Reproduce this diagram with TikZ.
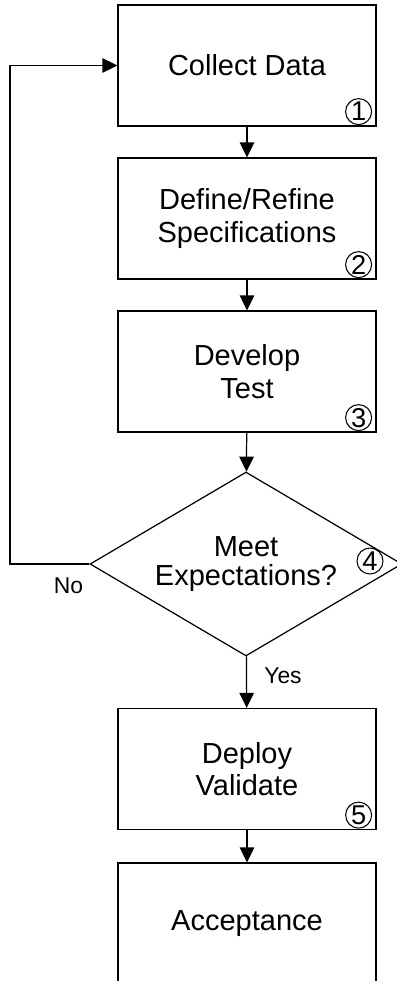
\documentclass[tikz,border=0pt]{standalone}
\usepackage{fontspec}
\setmainfont{Liberation Sans}
\usetikzlibrary{shapes.geometric,arrows.meta}

\begin{document}
\begin{tikzpicture}[
  box/.style={draw, line width=0.7pt, minimum width=5.16cm, minimum height=2.42cm,
    inner sep=0pt, align=center, font=\fontsize{16.5}{18.5}\selectfont},
  decision/.style={draw, diamond, aspect=1.7, line width=0.7pt, minimum width=6.24cm,
    minimum height=3.68cm, inner sep=0pt, align=center, font=\fontsize{16.5}{16}\selectfont},
  num/.style={draw, circle, line width=0.6pt, minimum size=0.52cm, inner sep=0pt,
    font=\fontsize{15.5}{15.5}\selectfont},
  lbl/.style={font=\fontsize{13}{14}\selectfont},
  arr/.style={line width=0.7pt, -{Triangle[width=0.29cm,length=0.3cm]}}
]
\useasboundingbox (0,0) rectangle (7.94,-19.62);
% The steps of the flow, top to bottom
\node[box] (collect) at (4.94,-1.31) {Collect Data};
\node[box] (specs) at (4.94,-4.37) {Define/Refine\\Specifications};
\node[box] (test) at (4.94,-7.43) {Develop\\Test};
\node[decision] (meet) at (4.92,-11.28) {Meet\\Expectations?};
\node[box] (deploy) at (4.94,-15.38) {Deploy\\Validate};
\node[box] (accept) at (4.94,-18.47) {Acceptance};
% Step numbers sit in the bottom right corners
\node[num] (n1) at ([xshift=-0.36cm,yshift=0.3cm]collect.south east) {1};
\node[num] (n2) at ([xshift=-0.36cm,yshift=0.3cm]specs.south east) {2};
\node[num] (n3) at ([xshift=-0.36cm,yshift=0.3cm]test.south east) {3};
\node[num] (n4) at ([xshift=2.48cm,yshift=0.06cm]meet.center) {4};
\node[num] (n5) at ([xshift=-0.36cm,yshift=0.3cm]deploy.south east) {5};
% Connectors
\draw[arr] (collect) -- (specs);
\draw[arr] (specs) -- (test);
\draw[arr] (test) -- (meet);
\draw[arr] (meet) -- (deploy);
\draw[arr] (deploy) -- (accept);
% The way back when the answer is no
\coordinate (back) at (0.2,-11.28);
\draw[arr] (meet.west) -- (back) |- (collect.west);
\node[lbl] (no) at ([xshift=-0.42cm,yshift=-0.44cm]meet.west) {No};
\node[lbl] (yes) at ([xshift=0.74cm,yshift=-0.38cm]meet.south) {Yes};
\end{tikzpicture}
\end{document}
